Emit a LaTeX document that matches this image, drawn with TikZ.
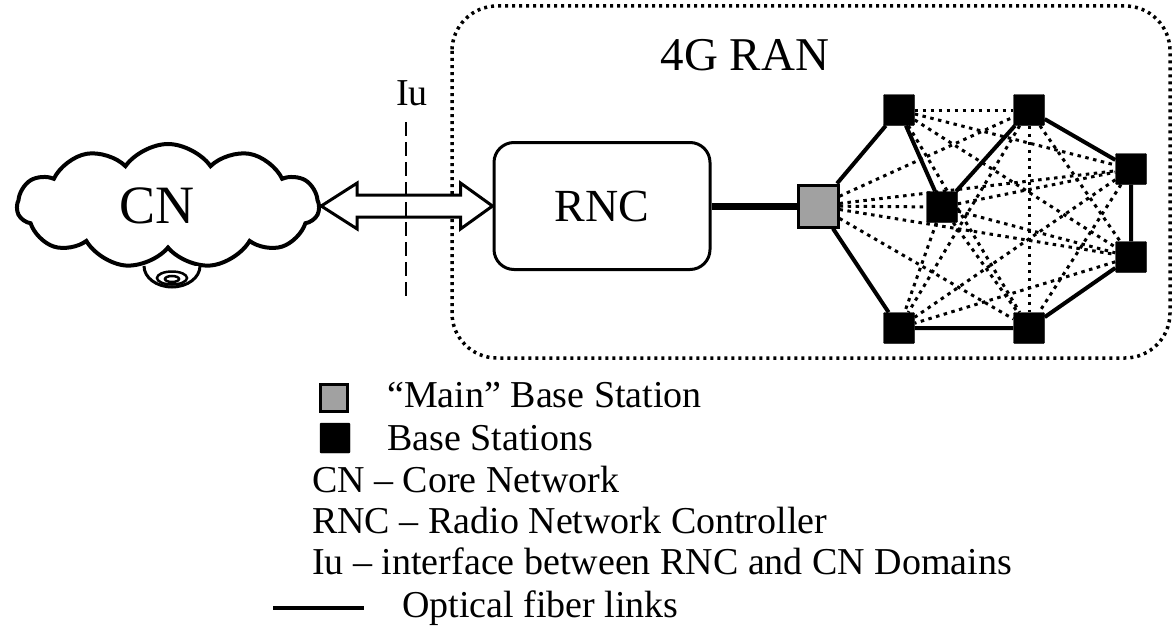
\documentclass[tikz,border=0pt]{standalone}
\usepackage{fontspec}
\setmainfont{Liberation Serif}
\usetikzlibrary{calc}
\usetikzlibrary{shapes.symbols}
\tikzset{
  bs/.style={draw, fill=black, minimum size=31pt, inner sep=0pt, rounded corners=1pt},
  mainbs/.style={draw, line width=3pt, fill=black!37, minimum width=40pt, minimum height=42pt, inner sep=0pt},
  fiber/.style={line width=4pt},
  radio/.style={line width=3pt, dash pattern=on 3.5pt off 4.5pt},
  lgd/.style={anchor=base west, inner sep=0pt, font=\fontsize{38}{42}\selectfont}
}

\begin{document}
\begin{tikzpicture}[x=1pt,y=-1pt]
\fill[white] (0,0) rectangle (1174,634);
\useasboundingbox (0,0) rectangle (1174,634);
\draw[line width=3.5pt, dash pattern=on 3pt off 4pt, rounded corners=45pt] (452,6) rectangle (1170,358);
\node[font=\fontsize{47}{50}\selectfont] (ran) at (745,55) {4G RAN};
\node[cloud, cloud puffs=11, cloud puff arc=110, aspect=2.4, draw, line width=4pt,
  minimum width=302pt, minimum height=124pt, inner sep=0pt,
  font=\fontsize{54}{58}\selectfont] (cn) at (168,206) {CN\hspace*{22pt}};
\draw[line width=3pt, fill=white] (144,266) arc[start angle=180, end angle=0, x radius=28, y radius=21];
\draw[line width=2.5pt] (172,278) ellipse[x radius=15, y radius=6.5];
\draw[line width=2.5pt] (172,279) ellipse[x radius=7, y radius=3];
\node[draw, line width=3pt, rounded corners=20pt, minimum width=216pt, minimum height=127pt,
  font=\fontsize{46}{50}\selectfont] (rnc) at (602,206) {RNC};
\draw[line width=3pt, fill=white] (cn.east) -- ++(36,-23) -- ++(0,12) -- ($(rnc.west)+(-32,-11)$)
  -- ++(0,-12) -- (rnc.west) -- ++(-32,23) -- ++(0,-12) -- ($(cn.east)+(36,11)$) -- ++(0,12) -- cycle;
\node[font=\fontsize{38}{42}\selectfont] (iu) at (412,93) {Iu};
\coordinate (iutop) at (406,122);
\coordinate (iubot) at (406,300);
\draw[line width=1.5pt, dash pattern=on 14pt off 6pt] (iutop) -- (iubot);
\node[mainbs] (m) at (818,206) {};
\node[bs] (a) at (899,110) {};
\node[bs] (b) at (1029,110) {};
\node[bs] (c) at (942,207) {};
\node[bs] (d) at (1131,169) {};
\node[bs] (e) at (1131,257) {};
\node[bs] (f) at (899,328) {};
\node[bs] (g) at (1029,328) {};
\draw[line width=7pt] (rnc.east) -- (m);
\foreach \p/\q in {m/b,m/c,m/d,m/e,m/g,a/b,a/d,a/e,a/g,b/e,b/f,b/g,c/d,c/e,c/f,c/g,d/f,d/g,e/f}
  \draw[radio] (\p) -- (\q);
\draw[fiber] (f) -- (m) -- (a) -- (c) -- (b) -- (d) -- (e) -- (g) -- (f);
\node[mainbs, minimum width=27pt, minimum height=27pt] (lmain) at (334,398) {};
\node[bs, minimum size=30pt] (lbs) at (335,438) {};
\node[lgd] (t1) at (387,407) {“Main” Base Station};
\node[lgd] (t2) at (387,450) {Base Stations};
\node[lgd] (t3) at (312,492) {CN -- Core Network};
\node[lgd] (t4) at (312,533) {RNC -- Radio Network Controller};
\node[lgd] (t5) at (312,574) {Iu -- interface between RNC and CN Domains};
\coordinate (l1) at (273,608);
\coordinate (l2) at (364,608);
\draw[fiber] (l1) -- (l2);
\node[lgd] (t6) at (402,617) {Optical fiber links};
\end{tikzpicture}
\end{document}
